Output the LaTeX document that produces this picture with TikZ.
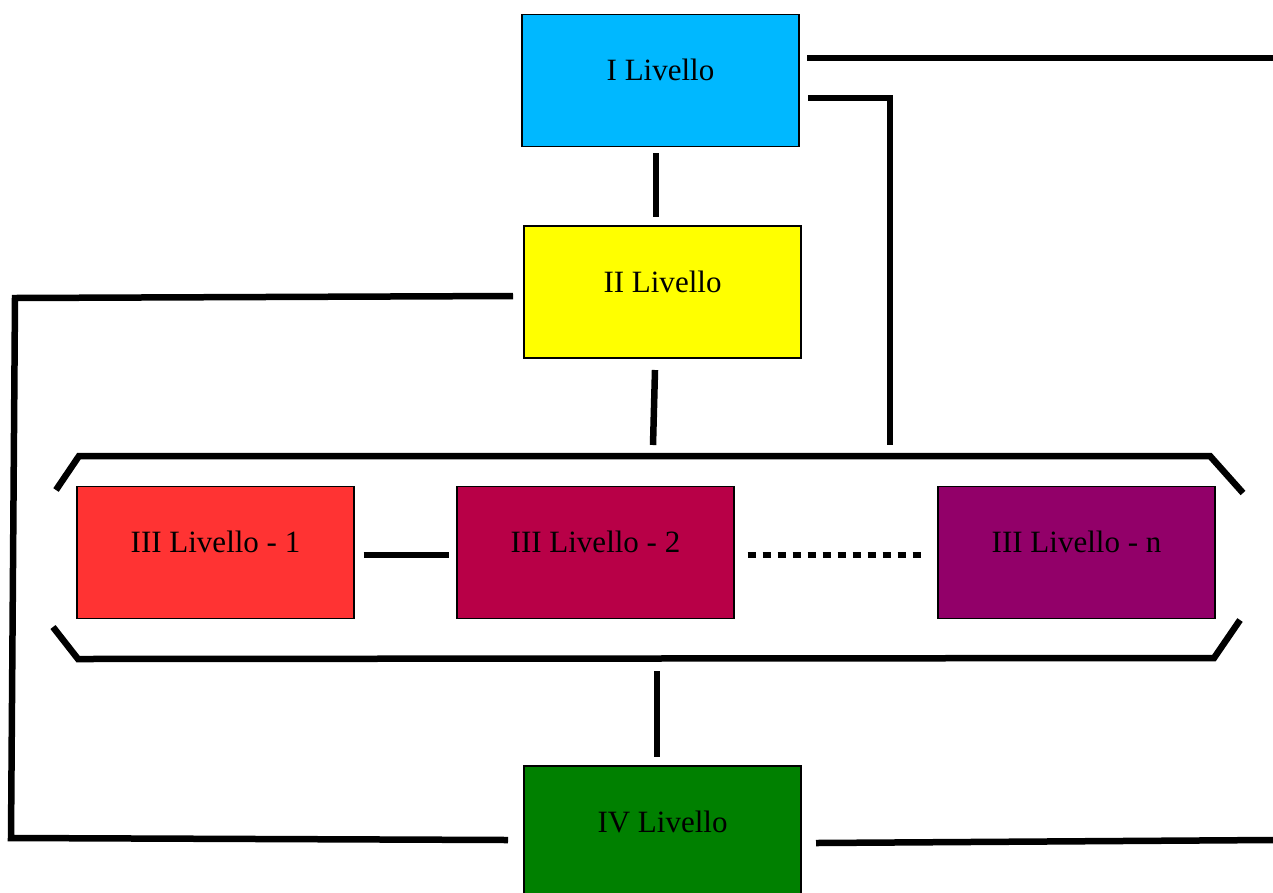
\documentclass[tikz,border=0pt]{standalone}
\usepackage{fontspec}
\setmainfont{Liberation Serif}
\definecolor{lvlcyan}{HTML}{00B8FF}
\definecolor{lvlyellow}{HTML}{FFFF00}
\definecolor{lvlred}{HTML}{FF3333}
\definecolor{lvlcrimson}{HTML}{B80047}
\definecolor{lvlpurple}{HTML}{920069}
\definecolor{lvlgreen}{HTML}{008000}

\begin{document}
\begin{tikzpicture}[x=1pt,y=-1pt,
    lvl/.style={draw, line width=1.2pt, minimum width=277pt, minimum height=132pt,
      inner sep=0pt, text height=12pt, text depth=12pt,
      font=\fontsize{31}{36}\selectfont},
    wire/.style={line width=6.5pt, line cap=butt, line join=miter}]

      \clip (0,0) rectangle (1273,892);

      \pgfmathsetmacro{\firstY}{80.5}
      \pgfmathsetmacro{\secondY}{292}
      \pgfmathsetmacro{\thirdY}{552.5}
      \pgfmathsetmacro{\fourthY}{832}

      % levels
      \node [lvl, fill=lvlcyan, name=lvlI] at (660.5, \firstY) {I Livello};
      \node [lvl, fill=lvlyellow, name=lvlII] at (662.5, \secondY) {II Livello};
      \node [lvl, fill=lvlred, name=lvlIIIa] at (215.5, \thirdY) {III Livello - 1};
      \node [lvl, fill=lvlcrimson, name=lvlIIIb] at (595.5, \thirdY) {III Livello - 2};
      \node [lvl, fill=lvlpurple, name=lvlIIIn] at (1076.5, \thirdY) {III Livello - n};
      \node [lvl, fill=lvlgreen, name=lvlIV] at (662.5, \fourthY) {IV Livello};

      % line ends
      \coordinate (iOutA) at (807,58);
      \coordinate (rimA) at (1273,58);
      \coordinate (iOutB) at (808,98);
      \coordinate (iTurn) at (890,98);
      \coordinate (busIn) at (890,445);
      \coordinate (iDown) at (656,153);
      \coordinate (iiUp) at (656,217);
      \coordinate (iiOut) at (513,296);
      \coordinate (cornerTL) at (15,298);
      \coordinate (cornerBL) at (11,838);
      \coordinate (ivIn) at (508,840);
      \coordinate (iiDown) at (655,370);
      \coordinate (busMid) at (653,445);
      \coordinate (busBot) at (657,671);
      \coordinate (ivUp) at (657,757);
      \coordinate (ivOut) at (816,843);
      \coordinate (rimB) at (1273,840);

      % bracket round the third level
      \coordinate (brTLa) at (56,490);
      \coordinate (brTLb) at (79,456);
      \coordinate (brTRb) at (1210,456);
      \coordinate (brTRa) at (1243,493);
      \coordinate (brBLa) at (53,627);
      \coordinate (brBLb) at (78,659);
      \coordinate (brBRb) at (1214,658);
      \coordinate (brBRa) at (1240,620);

      \draw [wire] (brTLa) -- (brTLb) -- (brTRb) -- (brTRa);
      \draw [wire] (brBLa) -- (brBLb) -- (brBRb) -- (brBRa);

      % connectors
      \draw [wire] (iOutA) -- (rimA);
      \draw [wire] (iOutB) -- (iTurn) -- (busIn);
      \draw [wire] (iDown) -- (iiUp);
      \draw [wire] (iiOut) -- (cornerTL) -- (cornerBL) -- (ivIn);
      \draw [wire] (iiDown) -- (busMid);
      \draw [wire] (busBot) -- (ivUp);
      \draw [wire] (ivOut) -- (rimB);

      \draw [wire, shorten <=9pt, shorten >=7pt]
        ([yshift=-2.5pt]lvlIIIa.east) -- ([yshift=-2.5pt]lvlIIIb.west);
      \draw [wire, dash pattern=on 8pt off 7pt, shorten <=13pt, shorten >=16pt]
        ([yshift=-2.5pt]lvlIIIb.east) -- ([yshift=-2.5pt]lvlIIIn.west);

\end{tikzpicture}
\end{document}
